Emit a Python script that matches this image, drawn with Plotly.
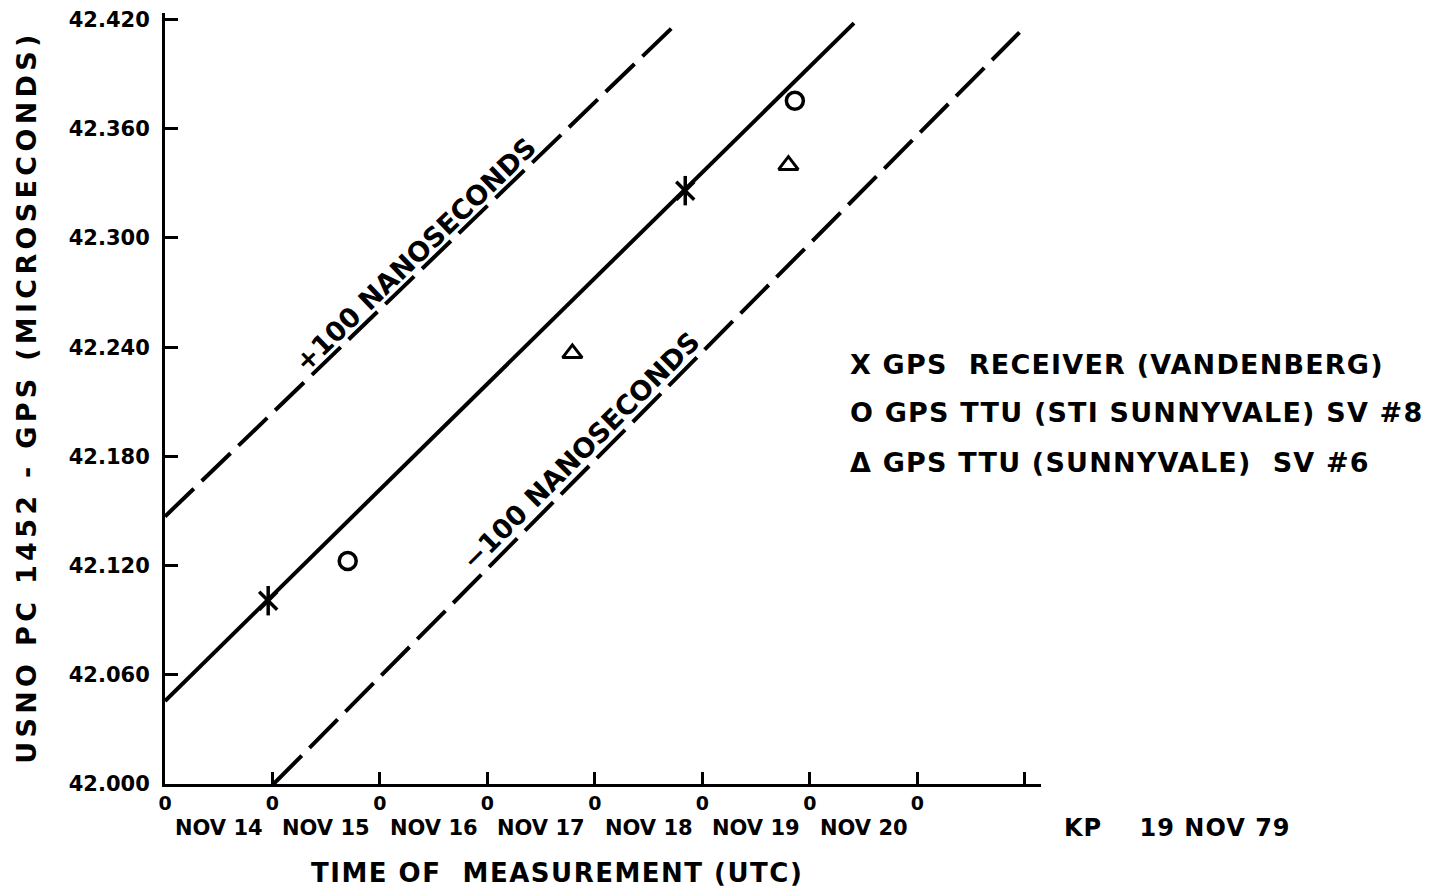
import plotly.graph_objects as go

# ---- data ----
# x = days since NOV 14 00h (UTC), y = USNO PC 1452 - GPS (microseconds)
plus_x = [0.0, 4.71]
plus_y = [42.147, 42.415]
solid_x = [0.0, 6.41]
solid_y = [42.0456, 42.418]
minus_x = [1.01, 7.95]
minus_y = [42.000, 42.413]

receiver_x = [0.96, 4.84]
receiver_y = [42.1007, 42.326]
sti_x = [1.70, 5.86]
sti_y = [42.1225, 42.3754]
sv6_x = [3.79, 5.80]
sv6_y = [42.2366, 42.340]

y_ticks = [42.000, 42.060, 42.120, 42.180, 42.240, 42.300, 42.360, 42.420]
x_ticks = [0, 1, 2, 3, 4, 5, 6, 7, 8]
x_ticktext = ["0", "0", "0", "0", "0", "0", "0", "0", ""]
day_pos = [0.5, 1.5, 2.5, 3.5, 4.5, 5.5, 6.5]
day_labels = ["NOV 14", "NOV 15", "NOV 16", "NOV 17", "NOV 18", "NOV 19", "NOV 20"]
legend_lines = [
    "X GPS  RECEIVER (VANDENBERG)",
    "O GPS TTU (STI SUNNYVALE) SV #8",
    "\u0394 GPS TTU (SUNNYVALE)  SV #6",
]

FONT = "DejaVu Sans"
BLACK = "black"

fig = go.Figure()
dash = "40px,11px"
fig.add_trace(go.Scatter(x=plus_x, y=plus_y, mode="lines",
                         line=dict(color=BLACK, width=4, dash=dash), hoverinfo="skip"))
fig.add_trace(go.Scatter(x=solid_x, y=solid_y, mode="lines",
                         line=dict(color=BLACK, width=4), hoverinfo="skip"))
fig.add_trace(go.Scatter(x=minus_x, y=minus_y, mode="lines",
                         line=dict(color=BLACK, width=4, dash=dash), hoverinfo="skip"))

# receiver: X with a vertical stroke
fig.add_trace(go.Scatter(x=receiver_x, y=receiver_y, mode="markers",
                         marker=dict(symbol="x-thin-open", size=18, color=BLACK,
                                     line=dict(color=BLACK, width=3.5))))
fig.add_trace(go.Scatter(x=receiver_x, y=receiver_y, mode="markers",
                         marker=dict(symbol="line-ns-open", size=21, color=BLACK,
                                     line=dict(color=BLACK, width=3.5))))
fig.add_trace(go.Scatter(x=sti_x, y=sti_y, mode="markers",
                         marker=dict(symbol="circle-open", size=17, color=BLACK,
                                     line=dict(color=BLACK, width=3.5))))
fig.add_trace(go.Scatter(x=sv6_x, y=sv6_y, mode="markers",
                         marker=dict(symbol="triangle-up-open", size=17, color=BLACK,
                                     line=dict(color=BLACK, width=3))))

ann = []
# band labels along the dashed lines
ann.append(dict(x=2.33, y=42.291, xref="x", yref="y", text="+100 NANOSECONDS",
                textangle=-44, showarrow=False,
                font=dict(family=FONT, size=27, color=BLACK, weight="bold")))
ann.append(dict(x=3.87, y=42.1835, xref="x", yref="y", text="\u2212100 NANOSECONDS",
                textangle=-45, showarrow=False,
                font=dict(family=FONT, size=27, color=BLACK, weight="bold")))
# day labels
for xp, lab in zip(day_pos, day_labels):
    ann.append(dict(x=xp, y=-0.057, xref="x", yref="paper", text=lab, showarrow=False,
                    xanchor="center", yanchor="middle",
                    font=dict(family=FONT, size=21, color=BLACK, weight="bold")))
# x title
ann.append(dict(x=0.4475, y=-0.1154, xref="paper", yref="paper",
                text="<span style='letter-spacing:1.5px'>TIME OF  MEASUREMENT (UTC)</span>",
                showarrow=False, xanchor="center", yanchor="middle",
                font=dict(family=FONT, size=26, color=BLACK, weight="bold")))
# y title
ann.append(dict(x=-0.1575, y=0.501, xref="paper", yref="paper", textangle=-90,
                text="<span style='letter-spacing:4.3px'>USNO PC 1452 - GPS (MICROSECONDS)</span>",
                showarrow=False, xanchor="center", yanchor="middle",
                font=dict(family=FONT, size=27, color=BLACK, weight="bold")))
# legend text
for yp, line in zip([0.5447, 0.4812, 0.4176], legend_lines):
    ann.append(dict(x=0.7797, y=yp, xref="paper", yref="paper",
                    text="<span style='letter-spacing:1.2px'>" + line + "</span>",
                    showarrow=False, xanchor="left", yanchor="middle",
                    font=dict(family=FONT, size=27, color=BLACK, weight="bold")))
# KP stamp
ann.append(dict(x=1.024, y=-0.057, xref="paper", yref="paper",
                text="<span style='letter-spacing:1px'>KP    19 NOV 79</span>",
                showarrow=False, xanchor="left", yanchor="middle",
                font=dict(family=FONT, size=24, color=BLACK, weight="bold")))

# the page puts the figure 8px in from the top-left corner; size it to fit the window
fig.update_layout(
    width=1439, height=883,
    margin=dict(l=157, r=406, t=5, b=107, autoexpand=False),
    paper_bgcolor="white", plot_bgcolor="white",
    showlegend=False,
    annotations=ann,
    xaxis=dict(range=[0, 8.15], tickvals=x_ticks, ticktext=x_ticktext, automargin=False,
               ticklabeloverflow="allow",
               showgrid=False, zeroline=False, showline=True, linecolor=BLACK, linewidth=3,
               ticks="inside", ticklen=12, tickwidth=2.5, tickcolor=BLACK,
               tickfont=dict(family=FONT, size=19, color=BLACK, weight="bold")),
    yaxis=dict(range=[42.0, 42.4236], tickvals=y_ticks, tickformat=".3f", automargin=False,
               ticklabeloverflow="allow",
               showgrid=False, zeroline=False, showline=True, linecolor=BLACK, linewidth=3,
               ticks="inside", ticklen=13, tickwidth=2.5, tickcolor=BLACK, ticklabelstandoff=8,
               tickfont=dict(family=FONT, size=21, color=BLACK, weight="bold")),
)

fig.write_html("out.html")
